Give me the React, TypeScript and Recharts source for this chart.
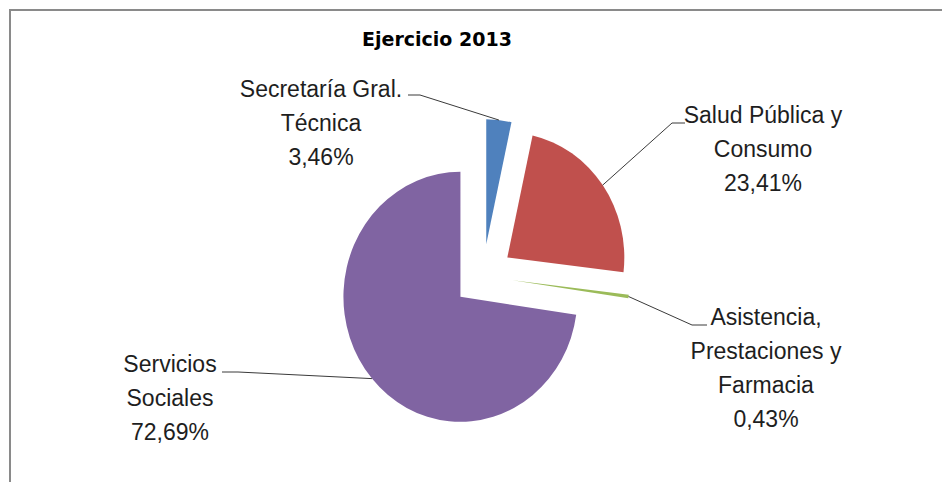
import { PieChart, Pie, Cell, Sector } from "recharts";

// Ejercicio 2013 - reparto por sección
const categories = [
  "Secretaría Gral. Técnica",
  "Salud Pública y Consumo",
  "Asistencia, Prestaciones y Farmacia",
  "Servicios Sociales",
];
const labelLines = [
  ["Secretaría Gral.", "Técnica"],
  ["Salud Pública y", "Consumo"],
  ["Asistencia,", "Prestaciones y", "Farmacia"],
  ["Servicios", "Sociales"],
];
const shares = [3.46, 23.41, 0.43, 72.69];
const colors = ["#4F81BD", "#C0504D", "#9BBB59", "#8064A2"];

// label placement (text centre x, first baseline y, elbow, end of leader)
const labelPos = [
  { x: 321, y: 97, elbow: [420, 95], end: [408, 95] },
  { x: 763, y: 123, elbow: [672, 123], end: [685, 123] },
  { x: 766, y: 325, elbow: [692, 325], end: [707, 325] },
  { x: 170, y: 372, elbow: [238, 372], end: [222, 372] },
];

const data = categories.map((name, i) => ({ name, value: shares[i] }));

const RADIAN = Math.PI / 180;
const EXPLODE = 0.255;
const Y_SCALE = 125 / 117;
const FONT = "'Liberation Sans', Arial, sans-serif";

const slice = (props: any) => {
  const { cx, cy, midAngle, outerRadius } = props;
  const dx = EXPLODE * outerRadius * Math.cos(midAngle * RADIAN);
  const dy = -EXPLODE * outerRadius * Math.sin(midAngle * RADIAN);
  return (
    <g transform={`translate(0 ${cy}) scale(1 ${Y_SCALE}) translate(0 ${-cy})`}>
      <Sector
        cx={cx + dx}
        cy={cy + dy}
        innerRadius={0}
        outerRadius={outerRadius}
        startAngle={props.startAngle}
        endAngle={props.endAngle}
        fill={props.fill}
        stroke="none"
      />
    </g>
  );
};

const renderLabel = (props: any) => {
  const { cx, cy, midAngle, outerRadius, index } = props;
  const cos = Math.cos(midAngle * RADIAN);
  const sin = Math.sin(midAngle * RADIAN);
  const r = outerRadius * (1 + EXPLODE);
  const sx = cx + r * cos;
  const sy = cy - r * sin * Y_SCALE;
  const pos = labelPos[index];
  const lines = [...labelLines[index], shares[index].toFixed(2).replace(".", ",") + "%"];
  return (
    <g>
      <path
        d={`M${sx},${sy}L${pos.elbow[0]},${pos.elbow[1]}L${pos.end[0]},${pos.end[1]}`}
        stroke="#3a3a3a"
        strokeWidth={1}
        fill="none"
      />
      <text x={pos.x} y={pos.y} textAnchor="middle" fill="#1e1e1e" fontSize={23} fontFamily={FONT}>
        {lines.map((t, i) => (
          <tspan key={i} x={pos.x} dy={i === 0 ? 0 : 34}>
            {t}
          </tspan>
        ))}
      </text>
    </g>
  );
};

export default function App() {
  return (
    <div style={{ position: "absolute", left: 0, top: 0, width: 942, height: 482, background: "#fff" }}>
      <div
        style={{
          position: "absolute",
          left: 9,
          top: 9,
          right: 0,
          bottom: 0,
          borderTop: "2px solid #8a8a8a",
          borderLeft: "2px solid #8a8a8a",
        }}
      />
      <div
        style={{
          position: "absolute",
          left: 337,
          width: 200,
          top: 29,
          textAlign: "center",
          fontFamily: "'DejaVu Sans', sans-serif",
          fontWeight: "bold",
          fontSize: 19,
          lineHeight: "20px",
          color: "#000",
        }}
      >
        Ejercicio 2013
      </div>
      <div style={{ position: "absolute", left: 0, top: 0 }}>
        <PieChart width={942} height={482} margin={{ top: 0, right: 0, bottom: 0, left: 0 }}>
          <Pie
            data={data}
            dataKey="value"
            nameKey="name"
            cx={483}
            cy={276}
            outerRadius={117}
            startAngle={90}
            endAngle={-270}
            stroke="none"
            isAnimationActive={false}
            shape={slice}
            inactiveShape={slice}
            activeShape={slice}
            label={renderLabel}
            labelLine={false}
          >
            {data.map((d, i) => (
              <Cell key={d.name} fill={colors[i]} />
            ))}
          </Pie>
        </PieChart>
      </div>
    </div>
  );
}
